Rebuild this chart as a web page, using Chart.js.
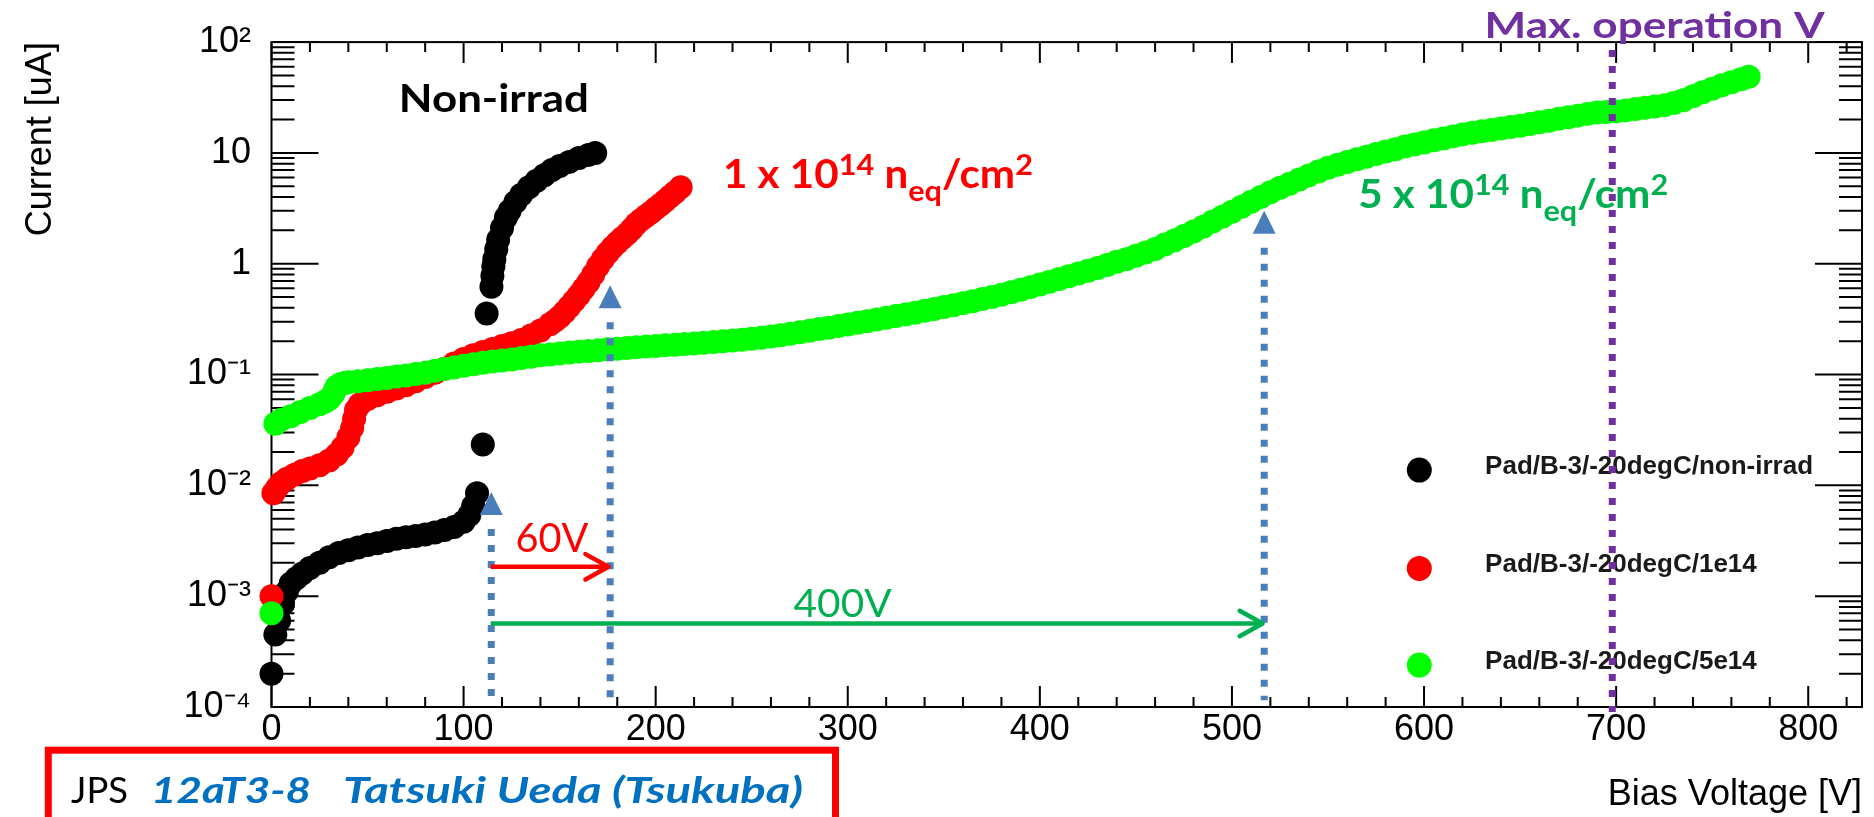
<!DOCTYPE html>
<html>
<head>
<meta charset="utf-8">
<script src="https://cdn.jsdelivr.net/npm/chart.js@4.4.1/dist/chart.umd.min.js"></script>
<style>
  html, body { margin: 0; padding: 0; background: #fff; }
  #wrap { width: 1874px; height: 817px; }
</style>
</head>
<body>
<div id="wrap"><canvas id="iv"></canvas></div>
<script>
// I-V curves of Pad/B-3 at -20 degC, three fluences
const blackV = [0, 2, 4, 6, 8, 10, 13, 16, 20, 25,
                30, 35, 40, 45, 50, 55, 60, 65, 70, 75,
                80, 85, 90, 95, 100, 103, 105, 107, 110, 112,
                114.5, 115, 115.5, 116, 117, 118, 120, 122, 124, 127,
                130, 134, 138, 142, 146, 150, 155, 160, 165, 168.5];
const blackI = [0.0002, 0.00045, 0.0006, 0.00085, 0.0011, 0.0013, 0.00145, 0.0016, 0.0018, 0.0020,
                0.00225, 0.00245, 0.0026, 0.00275, 0.0029, 0.0030, 0.00315, 0.0033, 0.0034, 0.0035,
                0.0036, 0.00375, 0.00395, 0.0042, 0.0047, 0.0054, 0.0065, 0.0085, 0.0234, 0.356,
                0.62, 0.78, 0.95, 1.1, 1.35, 1.65, 2.1, 2.6, 3.0, 3.6,
                4.2, 4.9, 5.6, 6.3, 7.0, 7.6, 8.3, 9.0, 9.6, 10.0];

const redV = [0, 1, 3, 5, 8, 12, 16, 20, 25, 30,
              34, 37, 40, 42, 43, 44, 46, 50, 55, 60,
              65, 70, 75, 80, 85, 90, 95, 100, 105, 110,
              115, 120, 125, 130, 135, 140, 145, 147.5, 150, 152.5,
              155, 157.5, 160, 162.5, 165, 167.5, 170, 172.5, 175, 177.5,
              180, 182.5, 185, 187.5, 190, 192.5, 195, 197.5, 200, 202.5,
              205, 207.5, 210, 213];
const redI = [0.001, 0.0085, 0.0095, 0.0105, 0.0115, 0.0125, 0.0135, 0.0142, 0.0152, 0.0168,
              0.019, 0.022, 0.027, 0.033, 0.040, 0.048, 0.054, 0.060, 0.065, 0.070,
              0.075, 0.080, 0.087, 0.095, 0.104, 0.113, 0.126, 0.138, 0.149, 0.160,
              0.170, 0.181, 0.192, 0.205, 0.225, 0.250, 0.285, 0.305, 0.330, 0.365,
              0.41, 0.46, 0.52, 0.595, 0.68, 0.80, 0.95, 1.10, 1.25, 1.40,
              1.55, 1.70, 1.85, 2.05, 2.3, 2.5, 2.7, 2.9, 3.15, 3.4,
              3.7, 4.05, 4.4, 4.9];

const greenV = [0, 2, 5, 10, 15, 20, 25, 28, 30, 32,
                33, 34, 36, 38, 40, 45, 50, 55, 60, 65,
                70, 75, 80, 85, 90, 95, 100, 105, 110, 115,
                120, 125, 130, 135, 140, 145, 150, 155, 160, 165,
                170, 175, 180, 185, 190, 195, 200, 205, 210, 215,
                220, 225, 230, 235, 240, 245, 250, 255, 260, 265,
                270, 275, 280, 285, 290, 295, 300, 305, 310, 315,
                320, 325, 330, 335, 340, 345, 350, 355, 360, 365,
                370, 375, 380, 385, 390, 395, 400, 405, 410, 415,
                420, 425, 430, 435, 440, 445, 450, 455, 460, 465,
                470, 475, 480, 485, 490, 495, 500, 505, 510, 515,
                520, 525, 530, 535, 540, 545, 550, 555, 560, 565,
                570, 575, 580, 585, 590, 595, 600, 605, 610, 615,
                620, 625, 630, 635, 640, 645, 650, 655, 660, 665,
                670, 675, 680, 685, 690, 695, 700, 705, 710, 715,
                720, 725, 730, 735, 740, 745, 750, 755, 760, 765,
                769];
const greenI = [0.0007, 0.036, 0.039, 0.042, 0.046, 0.050, 0.054, 0.057, 0.060, 0.066,
                0.072, 0.078, 0.082, 0.084, 0.085, 0.087, 0.089, 0.091, 0.093, 0.096,
                0.098, 0.101, 0.104, 0.108, 0.112, 0.116, 0.120, 0.124, 0.128, 0.131,
                0.134, 0.137, 0.141, 0.145, 0.149, 0.152, 0.155, 0.158, 0.161, 0.163,
                0.166, 0.169, 0.171, 0.174, 0.176, 0.179, 0.181, 0.184, 0.186, 0.189,
                0.191, 0.194, 0.197, 0.200, 0.203, 0.206, 0.210, 0.215, 0.220, 0.226,
                0.233, 0.241, 0.249, 0.257, 0.265, 0.274, 0.283, 0.293, 0.303, 0.314,
                0.325, 0.337, 0.348, 0.361, 0.376, 0.391, 0.406, 0.423, 0.441, 0.459,
                0.481, 0.502, 0.525, 0.553, 0.583, 0.615, 0.649, 0.687, 0.728, 0.771,
                0.817, 0.865, 0.916, 0.975, 1.04, 1.10, 1.18, 1.26, 1.36, 1.49,
                1.62, 1.78, 1.95, 2.16, 2.40, 2.66, 2.95, 3.27, 3.63, 4.01,
                4.42, 4.84, 5.28, 5.75, 6.27, 6.81, 7.35, 7.82, 8.28, 8.75,
                9.25, 9.77, 10.3, 10.8, 11.4, 11.9, 12.4, 13.0, 13.5, 14.1,
                14.7, 15.2, 15.7, 16.1, 16.6, 17.1, 17.6, 18.2, 18.9, 19.5,
                20.3, 21.0, 21.7, 22.5, 23.2, 23.4, 23.7, 24.2, 24.9, 25.6,
                26.2, 26.9, 28.2, 29.9, 32.5, 35.3, 38.0, 40.7, 43.5, 46.2,
                48.6];

const seriesLabels = ['Pad/B-3/-20degC/non-irrad', 'Pad/B-3/-20degC/1e14', 'Pad/B-3/-20degC/5e14'];
const seriesColors = ['#000000', '#ff0000', '#00ff00'];

const xTicks = [0, 100, 200, 300, 400, 500, 600, 700, 800];
const yTicks = [1e-4, 1e-3, 1e-2, 1e-1, 1, 10, 100];
const yTickLabels = ['10⁻⁴', '10⁻³', '10⁻²', '10⁻¹', '1', '10', '10²'];

const toPoints = (vs, is) => vs.map((v, k) => ({ x: v, y: is[k] }));

// draw a row of text pieces on one baseline, optionally squeezed to a given width
function fitText(ctx, runs, x, y, width, color) {
  let total = 0;
  runs.forEach(r => { ctx.font = r.font; r.w = ctx.measureText(r.text).width; total += r.w; });
  ctx.save();
  ctx.translate(x, y);
  if (width) ctx.scale(width / total, 1);
  ctx.fillStyle = color;
  ctx.textAlign = 'left';
  ctx.textBaseline = 'alphabetic';
  let cx = 0;
  runs.forEach(r => { ctx.font = r.font; ctx.fillText(r.text, cx, r.dy || 0); cx += r.w; });
  ctx.restore();
}

// ROOT style frame: box with inward ticks on all four sides
const frame = {
  id: 'frame',
  beforeDatasetsDraw(chart) {
    const { ctx, chartArea: a, scales: { x, y } } = chart;
    ctx.save();
    ctx.strokeStyle = '#000';
    ctx.lineWidth = 2;
    ctx.strokeRect(a.left, a.top, a.right - a.left, a.bottom - a.top);
    ctx.beginPath();
    for (let v = 0; v <= x.max; v += 20) {
      const px = x.getPixelForValue(v);
      const len = v % 100 === 0 ? 21 : 10;
      ctx.moveTo(px, a.bottom); ctx.lineTo(px, a.bottom - len);
      ctx.moveTo(px, a.top); ctx.lineTo(px, a.top + len);
    }
    for (let e = -4; e <= 2; e++) {
      for (let m = 1; m <= 9; m++) {
        const val = m * Math.pow(10, e);
        if (val > y.max * 1.0001) break;
        const py = y.getPixelForValue(val);
        const len = m === 1 ? 47 : 23;
        ctx.moveTo(a.left, py); ctx.lineTo(a.left + len, py);
        ctx.moveTo(a.right, py); ctx.lineTo(a.right - len, py);
      }
    }
    ctx.stroke();
    ctx.restore();
  }
};

// legend, labels, guide lines and arrows
const notes = {
  id: 'notes',
  afterDatasetsDraw(chart) {
    const { ctx, chartArea: a, scales: { x, y } } = chart;
    const px = v => x.getPixelForValue(v);
    const py = i => y.getPixelForValue(i);

    // legend
    const rows = [428, 526.3, 623];
    chart.data.datasets.forEach((ds, k) => {
      const cy = a.top + rows[k];
      ctx.fillStyle = ds.backgroundColor;
      ctx.beginPath();
      ctx.arc(a.right - 442.7, cy, 12.5, 0, Math.PI * 2);
      ctx.fill();
      fitText(ctx, [{ text: ds.label, font: 'bold 26px "Liberation Sans"' }],
        a.right - 376.9, cy + 4, 0, '#1a1a1a');
    });

    // curve labels
    fitText(ctx, [{ text: 'Non-irrad', font: 'bold 39px Lato' }], px(66.3), py(23.3), 190, '#000');
    const flux = (n) => [
      { text: n + ' x 10', font: 'bold 40px Lato' },
      { text: '14', font: 'bold 29px Lato', dy: -13 },
      { text: ' n', font: 'bold 40px Lato' },
      { text: 'eq', font: 'bold 29px Lato', dy: 13 },
      { text: '/cm', font: 'bold 40px Lato' },
      { text: '2', font: 'bold 29px Lato', dy: -13 }
    ];
    fitText(ctx, flux('1'), px(235.0), py(4.79), 310, '#ff0000');
    fitText(ctx, flux('5'), px(565.7), py(3.16), 310, '#00b050');
    fitText(ctx, [{ text: 'Max. operation V', font: 'bold 37px Lato' }], px(808.5) - 340, py(108), 340, '#7030a0');
    fitText(ctx, [{ text: '60V', font: '40px Lato' }], px(127), py(2.48e-3), 73, '#ff0000');
    fitText(ctx, [{ text: '400V', font: '39px Lato' }], px(271.8), py(6.5e-4), 98, '#00b050');

    // dotted guides
    ctx.save();
    ctx.lineWidth = 7;
    ctx.lineCap = 'butt';
    ctx.setLineDash([7, 9]);
    ctx.strokeStyle = '#4a7ebb';
    ctx.fillStyle = '#4a7ebb';
    [[114.4, 8.7e-3], [176.3, 0.641], [516.8, 3.0]].forEach(([v, tip]) => {
      const gx = px(v), ty = py(tip);
      ctx.beginPath();
      ctx.moveTo(gx, ty + 37);
      ctx.lineTo(gx, py(1.15e-4));
      ctx.stroke();
      ctx.beginPath();
      ctx.moveTo(gx, ty);
      ctx.lineTo(gx - 11.5, ty + 23);
      ctx.lineTo(gx + 11.5, ty + 23);
      ctx.closePath();
      ctx.fill();
    });
    ctx.strokeStyle = '#7030a0';
    ctx.beginPath();
    ctx.moveTo(px(698), py(84.7));
    ctx.lineTo(px(698), py(9e-5));
    ctx.stroke();
    ctx.restore();

    // span arrows
    ctx.save();
    ctx.lineWidth = 4.5;
    [[114.1, 175.4, 1.84e-3, '#ff0000'], [114.1, 516, 5.67e-4, '#00b050']].forEach(([v0, v1, i, c]) => {
      const x0 = px(v0), x1 = px(v1), ay = py(i);
      ctx.strokeStyle = c;
      ctx.lineCap = 'butt';
      ctx.beginPath();
      ctx.moveTo(x0, ay); ctx.lineTo(x1 - 2, ay);
      ctx.stroke();
      ctx.lineCap = 'round';
      ctx.lineJoin = 'round';
      ctx.beginPath();
      ctx.moveTo(x1 - 23, ay - 12.7); ctx.lineTo(x1, ay); ctx.lineTo(x1 - 23, ay + 12.7);
      ctx.stroke();
    });
    ctx.restore();
  },
  afterDraw(chart) {
    const ctx = chart.ctx;
    ctx.save();
    ctx.fillStyle = '#fff';
    ctx.fillRect(48, 750, 788, 80);
    ctx.strokeStyle = '#ff0000';
    ctx.lineWidth = 7;
    ctx.strokeRect(48.3, 750.2, 787.2, 90);
    ctx.restore();
    fitText(ctx, [{ text: 'JPS', font: '37px Lato' }], 71, 803, 57, '#000');
    fitText(ctx, [{ text: '12aT3-8', font: 'bold italic 37px Lato' }], 151, 803, 160, '#0070c0');
    fitText(ctx, [{ text: 'Tatsuki Ueda (Tsukuba)', font: 'bold italic 37px Lato' }], 343, 803, 460, '#0070c0');
  }
};

const axisFont = { family: '"Liberation Sans", Arial, sans-serif', size: 36 };

new Chart(document.getElementById('iv'), {
  type: 'scatter',
  data: {
    datasets: [0, 1, 2].map(k => ({
      label: seriesLabels[k],
      data: toPoints([blackV, redV, greenV][k], [blackI, redI, greenI][k]),
      backgroundColor: seriesColors[k],
      borderColor: seriesColors[k],
      pointRadius: 12,
      pointBorderWidth: 0,
      pointHoverRadius: 12,
      clip: false,
      order: 2 - k
    }))
  },
  options: {
    responsive: true,
    maintainAspectRatio: false,
    animation: false,
    events: [],
    layout: { padding: { top: 42, right: 3.5, left: 0, bottom: 0 } },
    plugins: { legend: { display: false }, tooltip: { enabled: false } },
    scales: {
      x: {
        type: 'linear',
        min: 0,
        max: 828,
        grid: { display: false, drawTicks: false },
        border: { display: false },
        afterBuildTicks: s => { s.ticks = xTicks.map(v => ({ value: v })); },
        afterFit: s => { s.height = 110; },
        ticks: { font: axisFont, color: '#000', padding: 1, maxRotation: 0, autoSkip: false },
        title: { display: true, text: 'Bias Voltage [V]', align: 'end', font: axisFont, color: '#000', padding: { top: 0, bottom: 0 } }
      },
      y: {
        type: 'logarithmic',
        min: 1e-4,
        max: 100,
        grid: { display: false, drawTicks: false },
        border: { display: false },
        afterBuildTicks: s => { s.ticks = yTicks.map(v => ({ value: v })); },
        afterFit: s => { s.width = 271.5; },
        ticks: { font: axisFont, color: '#000', padding: 20.5, autoSkip: false, callback: (v, i) => yTickLabels[i] },
        title: { display: true, text: 'Current [uA]', align: 'end', font: axisFont, color: '#000', padding: { top: 19.4, bottom: 0 } }
      }
    }
  },
  plugins: [frame, notes]
});
</script>
</body>
</html>
